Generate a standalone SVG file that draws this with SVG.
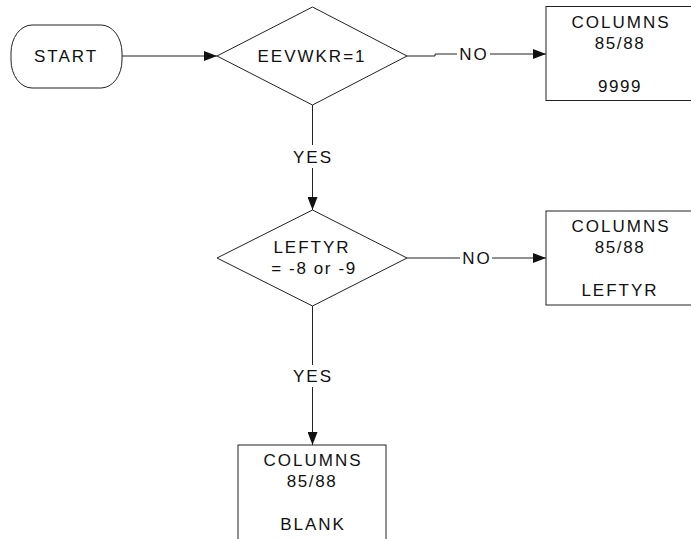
<svg xmlns="http://www.w3.org/2000/svg" width="691" height="539" viewBox="0 0 691 539">
<defs>
<style>
.shape{fill:#fff;stroke:#222;stroke-width:1}
.line{fill:none;stroke:#222;stroke-width:1}
text{font-family:"Liberation Sans",Arial,sans-serif;font-size:17px;fill:#111;text-anchor:middle;letter-spacing:2px}
.tight{letter-spacing:1.6px}
</style>
<marker id="arrow" viewBox="0 0 13 10" refX="13" refY="5" markerWidth="13" markerHeight="10" markerUnits="userSpaceOnUse" orient="auto">
<path d="M0,0 L13,5 L0,10 Z" fill="#111"/>
</marker>
</defs>
<rect width="691" height="539" fill="#fff"/>
<g id="connectors">
<path class="line" d="M122,56 H217" marker-end="url(#arrow)"/>
<path class="line" d="M407,56 H435 V54 H457"/>
<path class="line" d="M490,54 H546" marker-end="url(#arrow)"/>
<text x="474" y="60">NO</text>
<path class="line" d="M312.5,105 V145"/>
<path class="line" d="M312.5,168 V210" marker-end="url(#arrow)"/>
<text x="313" y="163">YES</text>
<path class="line" d="M407,258 H460"/>
<path class="line" d="M492,258 H546" marker-end="url(#arrow)"/>
<text x="477" y="264">NO</text>
<path class="line" d="M312.5,306 V365"/>
<path class="line" d="M312.5,387 V445" marker-end="url(#arrow)"/>
<text x="313" y="382">YES</text>
</g>
<g id="start">
<rect class="shape" x="11" y="25" width="111" height="63" rx="21" ry="28"/>
<text x="66" y="61.5">START</text>
</g>
<g id="eevwkr">
<polygon class="shape" points="312.5,7 407,56 312.5,105 217,56"/>
<text x="312" y="61.5">EEVWKR=1</text>
</g>
<g id="box-9999">
<rect class="shape" x="546" y="6.5" width="148" height="94"/>
<text x="621" y="28">COLUMNS</text>
<text class="tight" x="620" y="48.5">85/88</text>
<text class="tight" x="620" y="92">9999</text>
</g>
<g id="leftyr">
<polygon class="shape" points="312.5,210 407,258 312.5,306 217,258"/>
<text x="312" y="253">LEFTYR</text>
<text class="tight" x="314" y="274">= -8 or -9</text>
</g>
<g id="box-leftyr">
<rect class="shape" x="546" y="211" width="148" height="94"/>
<text x="621" y="232">COLUMNS</text>
<text class="tight" x="620" y="253">85/88</text>
<text x="620" y="295.5">LEFTYR</text>
</g>
<g id="box-blank">
<rect class="shape" x="238" y="445" width="148" height="96"/>
<text x="313" y="466">COLUMNS</text>
<text class="tight" x="312" y="487">85/88</text>
<text x="313" y="529.5">BLANK</text>
</g>
</svg>
